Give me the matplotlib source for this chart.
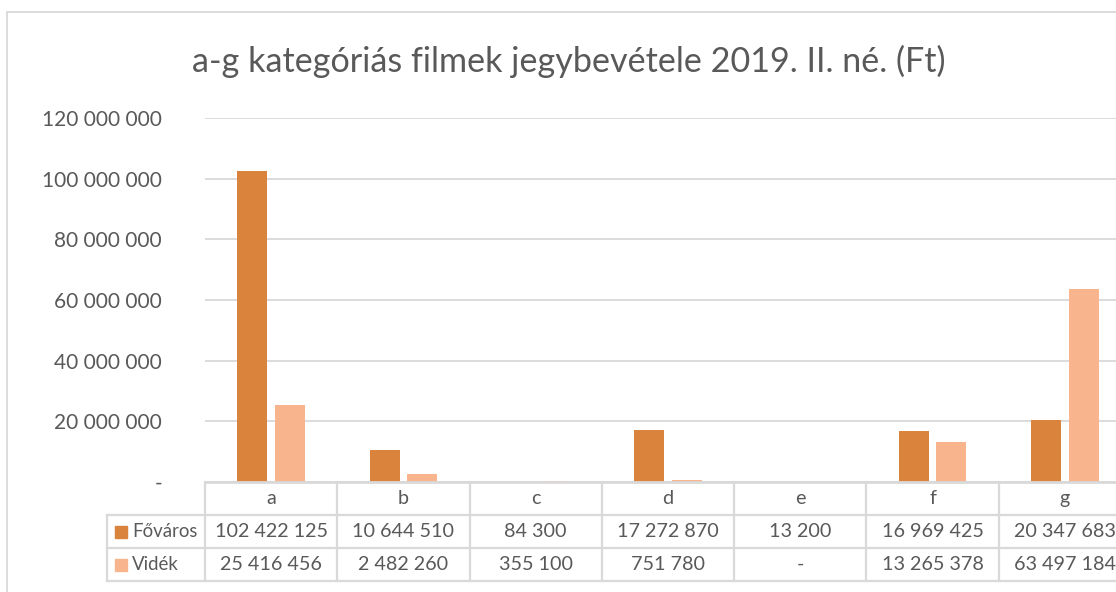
import matplotlib
matplotlib.use("Agg")
import matplotlib.pyplot as plt
import matplotlib.transforms as mtransforms
from matplotlib.patches import Rectangle
from matplotlib.lines import Line2D
from matplotlib.ticker import FuncFormatter

categories = ["a", "b", "c", "d", "e", "f", "g"]
series_names = ["Főváros", "Vidék"]
fovaros = [102422125, 10644510, 84300, 17272870, 13200, 16969425, 20347683]
videk = [25416456, 2482260, 355100, 751780, 0, 13265378, 63497184]
yticks = [0, 20000000, 40000000, 60000000, 80000000, 100000000, 120000000]
title = "a-g kategóriás filmek jegybevétele 2019. II. né. (Ft)"

colors = ["#DA833C", "#F8B48D"]
text_color = "#595959"
grid_color = "#D9D9D9"
FONT = "Lato"

W, H = 1116, 592
fig = plt.figure(figsize=(W / 100, H / 100), dpi=100)

def fy(py):
    return 1 - py / H

def fx(px):
    return px / W

ax_left, ax_right, ax_top, ax_bottom = 205, 1131, 118, 482
ax = fig.add_axes([fx(ax_left), fy(ax_bottom), (ax_right - ax_left) / W, (ax_bottom - ax_top) / H])

x = list(range(len(categories)))
bw = 0.225
off = 0.142
ax.bar([i - off for i in x], fovaros, width=bw, color=colors[0], zorder=3)
ax.bar([i + off for i in x], videk, width=bw, color=colors[1], zorder=3)

ax.set_xlim(-0.5, len(categories) - 0.5)
ax.set_ylim(0, 120000000)
ax.set_yticks(yticks)

def fmt(v, pos=None):
    if v == 0:
        return "-"
    return f"{int(round(v)):,}".replace(",", " ")

ax.yaxis.set_major_formatter(FuncFormatter(fmt))
ax.tick_params(axis="y", length=0, pad=31, labelsize=15, labelcolor=text_color)
for lab in ax.get_yticklabels():
    lab.set_fontfamily(FONT)
ax.set_xticks([])
ax.grid(axis="y", color=grid_color, linewidth=1.3, zorder=0)
for s in ax.spines.values():
    s.set_visible(False)

# Title
fig.text(fx(569), fy(61), title, ha="center", va="center", fontsize=24.6,
         color=text_color, family=FONT)

# Outer chart border
fig.add_artist(Line2D([fx(7), fx(7)], [fy(12), fy(600)], color=grid_color, lw=1.3,
                      transform=fig.transFigure))
fig.add_artist(Line2D([fx(7), fx(1130)], [fy(12), fy(12)], color=grid_color, lw=1.3,
                      transform=fig.transFigure))

# Data table
bt = mtransforms.blended_transform_factory(ax.transData, fig.transFigure)
row_edges = [482, 515, 548, 581]
leg_left = 107
n = len(categories)
fig.add_artist(Line2D([fx(ax_left), fx(ax_right)], [fy(482), fy(482)], color=grid_color, lw=2.0,
                      transform=fig.transFigure))
for ry in row_edges[1:]:
    fig.add_artist(Line2D([fx(leg_left), fx(ax_right)], [fy(ry), fy(ry)], color=grid_color, lw=1.6,
                          transform=fig.transFigure))
fig.add_artist(Line2D([fx(leg_left), fx(leg_left)], [fy(515), fy(581)], color=grid_color, lw=1.6,
                      transform=fig.transFigure))
for b in range(n + 1):
    ax.add_line(Line2D([b - 0.5, b - 0.5], [fy(482), fy(581)], color=grid_color, lw=1.6,
                       transform=bt, clip_on=False))

TS = 14.2
row_centers = [(row_edges[i] + row_edges[i + 1]) / 2 for i in range(3)]
for i, c in enumerate(categories):
    ax.text(i, fy(row_centers[0]), c, transform=bt, ha="center", va="center",
            fontsize=TS, color=text_color, family=FONT, clip_on=False)
    ax.text(i, fy(row_centers[1]), fmt(fovaros[i]), transform=bt, ha="center", va="center",
            fontsize=TS, color=text_color, family=FONT, clip_on=False)
    ax.text(i, fy(row_centers[2]), fmt(videk[i]), transform=bt, ha="center", va="center",
            fontsize=TS, color=text_color, family=FONT, clip_on=False)

for k, name in enumerate(series_names):
    cy = row_centers[k + 1]
    fig.add_artist(Rectangle((fx(115), fy(cy + 6)), 12 / W, 12 / H, color=colors[k],
                             transform=fig.transFigure))
    fig.text(fx(132), fy(cy), name, ha="left", va="center", fontsize=13.4,
             color=text_color, family=FONT)

fig.savefig("out.png", dpi=100)
